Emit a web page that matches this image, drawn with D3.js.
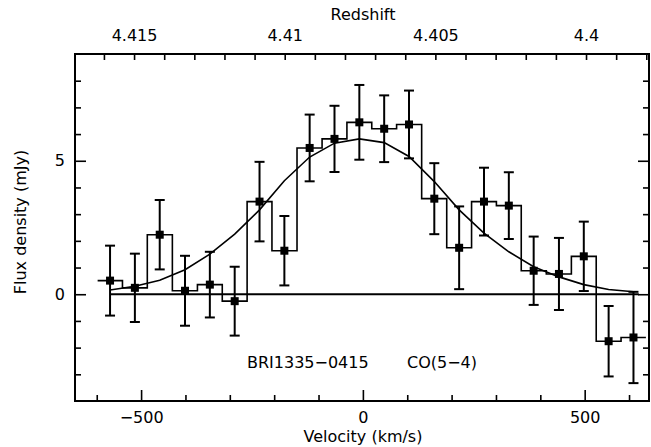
<!DOCTYPE html>
<html>
<head>
<meta charset="utf-8">
<script src="https://cdn.jsdelivr.net/npm/d3@7"></script>
<style>
body { margin: 0; background: #fff; }
text { font-family: "DejaVu Sans", sans-serif; font-size: 16px; fill: #000; }
</style>
</head>
<body>
<div id="chart"></div>
<script>
// channel velocities (km/s), flux (mJy), 1-sigma errors, gaussian fit
var velocity = [-570, -514, -458, -401, -345, -289, -233, -177, -120, -64, -8,
                48, 104, 161, 217, 273, 329, 385, 442, 498, 554, 610];
var flux = [0.51, 0.24, 2.23, 0.13, 0.36, -0.26, 3.47, 1.63, 5.48, 5.82, 6.44,
            6.20, 6.36, 3.58, 1.74, 3.47, 3.32, 0.88, 0.76, 1.42, -1.76, -1.62];
var fluxErr = [1.31, 1.28, 1.30, 1.31, 1.23, 1.29, 1.49, 1.30, 1.25, 1.24, 1.40,
               1.25, 1.27, 1.33, 1.55, 1.27, 1.25, 1.28, 1.35, 1.30, 1.32, 1.71];
var fit = [0.16, 0.30, 0.52, 0.92, 1.50, 2.25, 3.16, 4.25, 5.14, 5.66, 5.82,
           5.68, 5.16, 4.22, 3.16, 2.29, 1.59, 1.03, 0.65, 0.36, 0.18, 0.09];
var chanHalf = 28;
var zeroLine = [-570, 622];

var velTicks = [-600, -500, -400, -300, -200, -100, 0, 100, 200, 300, 400, 500, 600];
var velMajor = [-500, 0, 500];
var fluxTicks = [-3, -2, -1, 0, 1, 2, 3, 4, 5, 6, 7, 8];
var fluxMajor = [0, 5];
var zTicks = [4.416, 4.415, 4.414, 4.413, 4.412, 4.411, 4.41, 4.409, 4.408, 4.407,
              4.406, 4.405, 4.404, 4.403, 4.402, 4.401, 4.4, 4.399, 4.398];
var zLabels = [4.415, 4.41, 4.405, 4.4];

var svgWidth = 651;
var svgHeight = 447;
var plotLeft = 75, plotRight = 649, plotTop = 54, plotBottom = 401;

var svg = d3.select("#chart")
    .append("svg")
    .attr("width", svgWidth)
    .attr("height", svgHeight);

var x = d3.scaleLinear().domain([-649, 645]).range([plotLeft, plotRight]);
var y = d3.scaleLinear().domain([-4, 9]).range([plotBottom, plotTop]);
var z = d3.scaleLinear().domain([4.41696, 4.39791]).range([plotLeft, plotRight]);

function isMajor(list, d) {
    return list.some(m => Math.abs(m - d) < 1e-9);
}

// bottom axis
var bottomAxis = d3.axisBottom(x)
    .tickValues(velTicks)
    .tickSizeInner(-6).tickSizeOuter(0).tickPadding(11)
    .tickFormat(d => isMajor(velMajor, d) ? String(d).replace("-", "\u2212") : "");
var gb = svg.append("g").attr("transform", `translate(0,${plotBottom})`).call(bottomAxis);
gb.selectAll(".tick line").filter(d => isMajor(velMajor, d)).attr("y2", -11);

// top axis (redshift)
var topAxis = d3.axisTop(z)
    .tickValues(zTicks)
    .tickSizeInner(-6).tickSizeOuter(0).tickPadding(13)
    .tickFormat(d => isMajor(zLabels, d) ? String(+d.toFixed(3)) : "");
svg.append("g").attr("transform", `translate(0,${plotTop})`).call(topAxis);

// left axis
var leftAxis = d3.axisLeft(y)
    .tickValues(fluxTicks)
    .tickSizeInner(-6).tickSizeOuter(0).tickPadding(10)
    .tickFormat(d => isMajor(fluxMajor, d) ? d : "");
var gl = svg.append("g").attr("transform", `translate(${plotLeft},0)`).call(leftAxis);
gl.selectAll(".tick line").filter(d => isMajor(fluxMajor, d)).attr("x2", 11);

// right axis
var rightAxis = d3.axisRight(y)
    .tickValues(fluxTicks)
    .tickSizeInner(-6).tickSizeOuter(0)
    .tickFormat("");
var gr = svg.append("g").attr("transform", `translate(${plotRight},0)`).call(rightAxis);
gr.selectAll(".tick line").filter(d => isMajor(fluxMajor, d)).attr("x2", -11);

svg.selectAll(".domain").remove();
svg.selectAll(".tick line").attr("stroke", "#000").attr("stroke-width", 1.6);
svg.selectAll(".tick text").style("font-family", "DejaVu Sans").style("font-size", "16px").attr("fill", "#000");

// frame
svg.append("rect")
    .attr("x", plotLeft).attr("y", plotTop)
    .attr("width", plotRight - plotLeft).attr("height", plotBottom - plotTop)
    .attr("fill", "none").attr("stroke", "#000").attr("stroke-width", 2);

// axis titles
svg.append("text").attr("x", 363).attr("y", 20).attr("text-anchor", "middle").text("Redshift");
svg.append("text").attr("x", 363).attr("y", 442).attr("text-anchor", "middle").text("Velocity (km/s)");
svg.append("text").attr("transform", "translate(26,222) rotate(-90)")
    .attr("text-anchor", "middle").text("Flux density (mJy)");

var plot = svg.append("g");

// zero line
plot.append("line")
    .attr("x1", x(zeroLine[0])).attr("x2", x(zeroLine[1]))
    .attr("y1", y(0)).attr("y2", y(0))
    .attr("stroke", "#000").attr("stroke-width", 2);

// histogram
var pts = velocity.map((v, i) => [v, flux[i]]);
pts.unshift([velocity[0] - chanHalf, flux[0]]);
pts.push([velocity[velocity.length - 1] + chanHalf, flux[flux.length - 1]]);
var step = d3.line().x(d => x(d[0])).y(d => y(d[1])).curve(d3.curveStep);
plot.append("path")
    .attr("d", step(pts))
    .attr("fill", "none").attr("stroke", "#000").attr("stroke-width", 1.6);

// gaussian fit
var fitLine = d3.line().x((d, i) => x(velocity[i])).y(d => y(d));
plot.append("path")
    .attr("d", fitLine(fit))
    .attr("fill", "none").attr("stroke", "#000").attr("stroke-width", 1.6);

// error bars
var eb = plot.selectAll(".eb").data(velocity).enter().append("g");
eb.append("line")
    .attr("x1", d => x(d)).attr("x2", d => x(d))
    .attr("y1", (d, i) => y(flux[i] - fluxErr[i]))
    .attr("y2", (d, i) => y(flux[i] + fluxErr[i]))
    .attr("stroke", "#000").attr("stroke-width", 2);
[-1, 1].forEach(function (s) {
    eb.append("line")
        .attr("x1", d => x(d) - 5).attr("x2", d => x(d) + 5)
        .attr("y1", (d, i) => y(flux[i] + s * fluxErr[i]))
        .attr("y2", (d, i) => y(flux[i] + s * fluxErr[i]))
        .attr("stroke", "#000").attr("stroke-width", 2);
});
eb.append("rect")
    .attr("x", d => x(d) - 4)
    .attr("y", (d, i) => y(flux[i]) - 4)
    .attr("width", 8).attr("height", 8)
    .attr("fill", "#000");

// labels
svg.append("text").attr("x", 247).attr("y", 368).text("BRI1335\u22120415");
svg.append("text").attr("x", 407).attr("y", 368).text("CO(5\u22124)");
</script>
</body>
</html>
